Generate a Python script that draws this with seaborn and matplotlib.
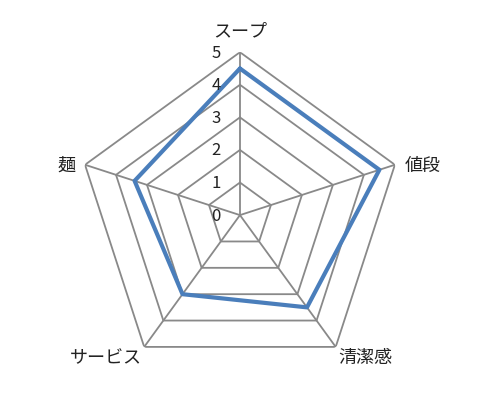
import numpy as np
import matplotlib.pyplot as plt
import seaborn as sns

sns.set_style('white')
plt.rcParams['font.family'] = ['Noto Sans CJK JP', 'DejaVu Sans']

# Data
categories = ['スープ', '値段', '清潔感', 'サービス', '麺']
values = [4.5, 4.5, 3.5, 3.0, 3.4]
levels = [0, 1, 2, 3, 4, 5]

grid_color = '#898989'
line_color = '#4A7EBB'

n = len(categories)
theta = np.linspace(0, 2 * np.pi, n, endpoint=False)
theta_closed = np.append(theta, 2 * np.pi)
values_closed = values + values[:1]

fig = plt.figure(figsize=(4.8, 4.14), dpi=100)
ax = fig.add_axes([0.1604, 0.0845, 0.679, 0.787], projection='polar')
ax.set_theta_zero_location('N')
ax.set_theta_direction(-1)
ax.grid(False)
ax.spines['polar'].set_visible(False)
ax.set_xticks([])
ax.set_yticks([])

# pentagon grid
for lvl in levels[1:]:
    ax.plot(theta_closed, [lvl] * (n + 1), color=grid_color, lw=1.3, zorder=1)
for t in theta:
    ax.plot([t, t], [0, levels[-1]], color=grid_color, lw=1.3, zorder=1)

# data series
sns.lineplot(x=theta_closed, y=values_closed, sort=False, estimator=None, ax=ax,
             color=line_color, linewidth=3, zorder=3)
ax.set_xlabel('')
ax.set_ylabel('')
ax.set_ylim(0, levels[-1])

# radial labels
for lvl in levels:
    ax.annotate(str(lvl), xy=(0, lvl), xytext=(-14, 0), textcoords='offset points',
                ha='right', va='center', fontsize=12, color='#222222')

# category labels
offsets = [((0, 9), 'center', 'bottom'),
           ((7, 0), 'left', 'center'),
           ((2, -1), 'left', 'top'),
           ((-2, -1), 'right', 'top'),
           ((-7, 0), 'right', 'center')]
for t, lab, (off, ha, va) in zip(theta, categories, offsets):
    ax.annotate(lab, xy=(t, levels[-1]), xytext=off, textcoords='offset points',
                ha=ha, va=va, fontsize=13, color='#222222')

fig.savefig('out.png', dpi=100)
